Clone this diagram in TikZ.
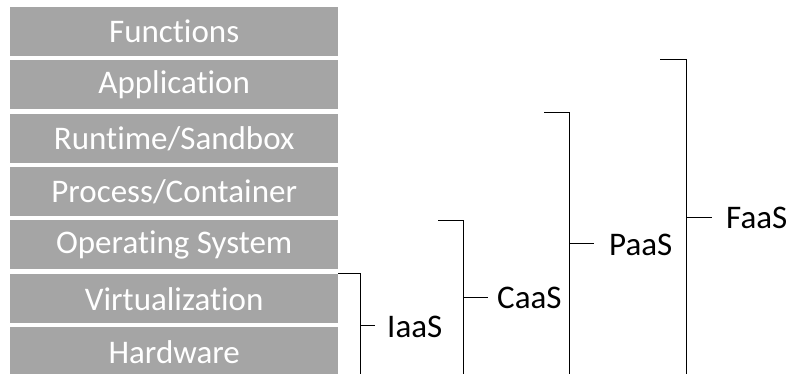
\documentclass[tikz,border=0pt]{standalone}
\usepackage{fontspec}
\setmainfont[RawFeature=-liga]{Carlito}
\definecolor{boxgray}{HTML}{A5A5A5}
\begin{document}
\begin{tikzpicture}[x=1pt,y=1pt,
  layer/.style={fill=boxgray, text=white, minimum width=328pt, minimum height=49pt, inner sep=0pt, anchor=north west, font=\fontsize{33}{39}\selectfont},
  lbl/.style={anchor=west, inner sep=0pt, font=\fontsize{33}{39}\selectfont},
  brk/.style={draw=black, line width=1pt}]
\useasboundingbox (0,0) rectangle (789,374);
\clip (0,0) rectangle (789,374);
\node[layer] (fun) at (10,367) {Functions};
\node[layer] (app) at (10,314) {Application};
\node[layer] (run) at (10,260) {Runtime/Sandbox};
\node[layer] (pro) at (10,207) {Process/Container};
\node[layer] (os)  at (10,154) {Operating System};
\node[layer] (vir) at (10,100) {Virtualization};
\node[layer] (hw)  at (10,47)  {Hardware};
% IaaS
\coordinate (iT) at (338,100); \coordinate (iB) at (360,0); \coordinate (iM) at (360,48);
\node[lbl] (iaas) at (387,47) {IaaS};
\draw[brk] (iT) -| (iB);
\draw[brk] (iM) -- ([xshift=-12pt]iaas.west |- iM);
% CaaS
\coordinate (cT) at (438,153); \coordinate (cB) at (463,0); \coordinate (cM) at (463,76);
\node[lbl] (caas) at (497,76) {CaaS};
\draw[brk] (cT) -| (cB);
\draw[brk] (cM) -- ([xshift=-9pt]caas.west);
% PaaS
\coordinate (pT) at (544,261); \coordinate (pB) at (569,0); \coordinate (pM) at (569,130);
\node[lbl] (paas) at (609,129) {PaaS};
\draw[brk] (pT) -| (pB);
\draw[brk] (pM) -- ([xshift=-15pt]paas.west |- pM);
% FaaS
\coordinate (fT) at (660,314); \coordinate (fB) at (686,0); \coordinate (fM) at (686,156);
\node[lbl] (faas) at (726,156) {FaaS};
\draw[brk] (fT) -| (fB);
\draw[brk] (fM) -- ([xshift=-14pt]faas.west);
\end{tikzpicture}
\end{document}
